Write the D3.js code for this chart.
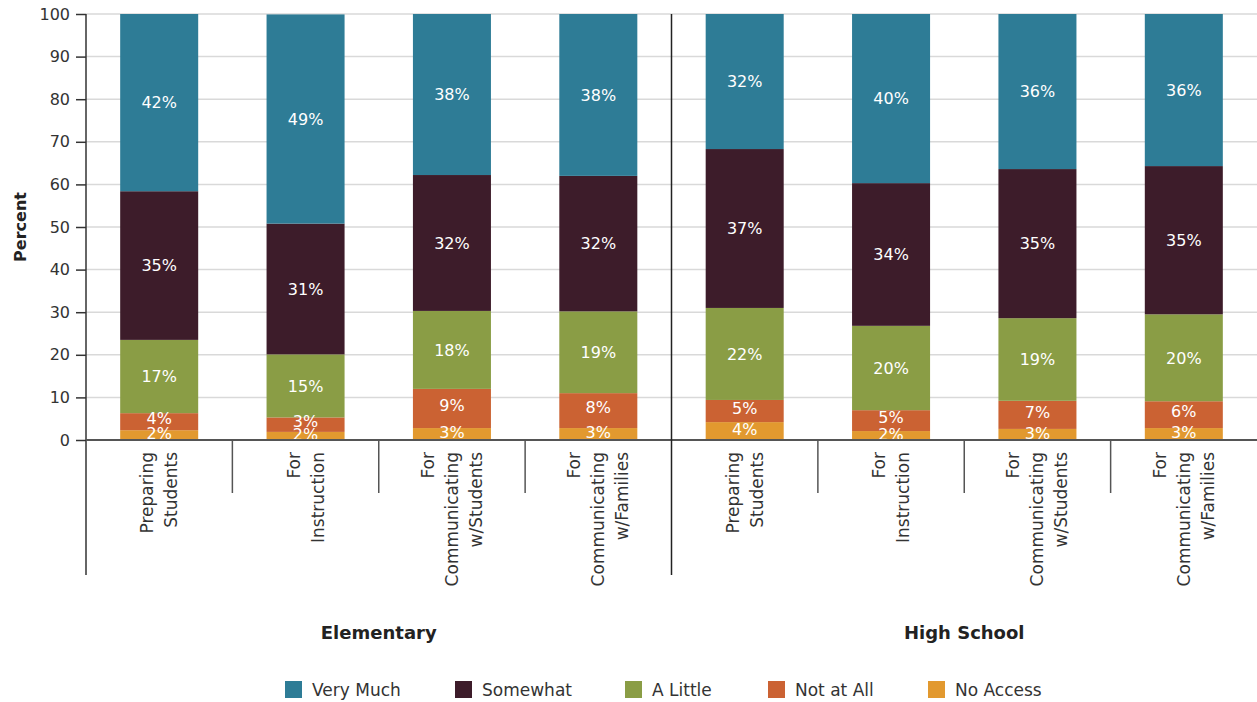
<!DOCTYPE html>
<html><head><meta charset="utf-8">
<script src="https://cdn.jsdelivr.net/npm/d3@7"></script>
<style>body{margin:0;background:#fff}svg{display:block}text{font-family:"DejaVu Sans","Noto Sans",sans-serif}</style>
</head><body>
<svg id="c" width="1257" height="702"></svg>
<script>
const groups = ["Elementary", "High School"];
const categories = [["Preparing","Students"],["For","Instruction"],["For","Communicating","w/Students"],["For","Communicating","w/Families"]];
const seriesNames = ["No Access","Not at All","A Little","Somewhat","Very Much"];
const colors = ["#e2992f","#cb6233","#8a9d45","#3d1c2a","#2e7c96"];
// values per bar (Elementary x4, High School x4)
const noAccess  = [2.3, 1.9, 2.8, 2.8, 4.2, 2.1, 2.6, 2.8];
const notAtAll  = [4.0, 3.4, 9.2, 8.2, 5.2, 4.9, 6.6, 6.3];
const aLittle   = [17.2, 14.8, 18.3, 19.2, 21.6, 19.8, 19.4, 20.4];
const somewhat  = [34.9, 30.7, 31.9, 31.8, 37.3, 33.5, 35.0, 34.8];
const veryMuch  = [41.6, 49.1, 37.8, 38.0, 31.7, 39.7, 36.4, 35.7];
const labels = [
  ["2%","2%","3%","3%","4%","2%","3%","3%"],
  ["4%","3%","9%","8%","5%","5%","7%","6%"],
  ["17%","15%","18%","19%","22%","20%","19%","20%"],
  ["35%","31%","32%","32%","37%","34%","35%","35%"],
  ["42%","49%","38%","38%","32%","40%","36%","36%"]
];
const yTicks = [0,10,20,30,40,50,60,70,80,90,100];
const legendOrder = ["Very Much","Somewhat","A Little","Not at All","No Access"];

const series = [noAccess, notAtAll, aLittle, somewhat, veryMuch];
const keys = d3.range(8);
const svg = d3.select("#c");
const L = 86, R = 1257, T = 14, B = 440;
const x = d3.scaleBand().domain(keys).range([L, R]).paddingInner(0.467).paddingOuter(0.2335);
const xb = d3.scaleBand().domain(keys).range([L, R]);
const y = d3.scaleLinear().domain([0,100]).range([B, T]);
const FS = 16, FL = 17;

// gridlines
svg.append("g").selectAll("line").data(yTicks.filter(d=>d>0)).join("line")
  .attr("x1", L).attr("x2", R).attr("y1", d=>y(d)).attr("y2", d=>y(d))
  .attr("stroke", "#d9d9d9").attr("stroke-width", 1.5);

// stacked bars
const rows = keys.map(i => { const o = {i}; seriesNames.forEach((s,k)=> o[s] = series[k][i]); return o; });
const stack = d3.stack().keys(seriesNames)(rows);
const gBars = svg.append("g");
stack.forEach((layer, k) => {
  gBars.append("g").attr("fill", colors[k]).selectAll("rect").data(layer).join("rect")
    .attr("x", d => x(d.data.i)).attr("width", x.bandwidth())
    .attr("y", d => y(d[1])).attr("height", d => y(d[0]) - y(d[1]));
});
stack.forEach((layer, k) => {
  gBars.append("g").selectAll("text").data(layer).join("text")
    .attr("x", d => x(d.data.i) + x.bandwidth()/2)
    .attr("y", d => (y(d[0]) + y(d[1]))/2 - (k === 1 ? 3 : k === 0 ? 1.5 : 0))
    .attr("dy", "0.36em").attr("text-anchor", "middle")
    .attr("fill", "#fff").attr("font-size", FS)
    .text(d => labels[k][d.data.i]);
});

// y axis
const yAxis = svg.append("g").attr("transform", `translate(${L},0)`)
  .call(d3.axisLeft(y).tickValues(yTicks).tickSize(10).tickPadding(6));
yAxis.select(".domain").remove();
yAxis.selectAll(".tick line").attr("stroke", "#333").attr("stroke-width", 1.5);
yAxis.selectAll(".tick text").attr("font-size", FS).attr("fill", "#333").attr("font-family", "'DejaVu Sans',sans-serif");
svg.append("line").attr("x1", L).attr("x2", L).attr("y1", T).attr("y2", 575).attr("stroke", "#333").attr("stroke-width", 1.5);

// baseline
svg.append("line").attr("x1", L).attr("x2", R).attr("y1", B).attr("y2", B).attr("stroke", "#555").attr("stroke-width", 2);

// separators
keys.slice(1).forEach(i => {
  const xx = xb(i);
  const long = i === 4;
  svg.append("line").attr("x1", xx).attr("x2", xx).attr("y1", long ? T : B).attr("y2", long ? 575 : 493)
    .attr("stroke", long ? "#222" : "#555").attr("stroke-width", 1.5);
});

// category labels
keys.forEach(i => {
  const lines = categories[i % 4];
  const cx = xb(i) + xb.bandwidth()/2;
  const lh = 24;
  lines.forEach((t, j) => {
    const off = (j - (lines.length-1)/2) * lh;
    svg.append("text")
      .attr("transform", `translate(${cx + off + 6},452) rotate(-90)`)
      .attr("text-anchor", "end").attr("font-size", FL).attr("fill", "#333")
      .text(t);
  });
});

// group labels
groups.forEach((g, k) => {
  svg.append("text").attr("x", (xb(k*4) + xb(k*4+3) + xb.bandwidth())/2).attr("y", 639)
    .attr("text-anchor", "middle").attr("font-size", 18).attr("font-weight", "bold").attr("fill", "#222").text(g);
});

// y title
svg.append("text").attr("transform", "translate(26,227) rotate(-90)").attr("text-anchor", "middle")
  .attr("font-size", FS).attr("font-weight", "bold").attr("fill", "#222").text("Percent");

// legend
const legX = [285, 455, 625, 768, 928];
legendOrder.forEach((s, k) => {
  const ci = seriesNames.indexOf(s);
  svg.append("rect").attr("x", legX[k]).attr("y", 681).attr("width", 17).attr("height", 17).attr("fill", colors[ci]);
  svg.append("text").attr("x", legX[k] + 27).attr("y", 696).attr("font-size", FL).attr("fill", "#333").text(s);
});
</script>
</body></html>
